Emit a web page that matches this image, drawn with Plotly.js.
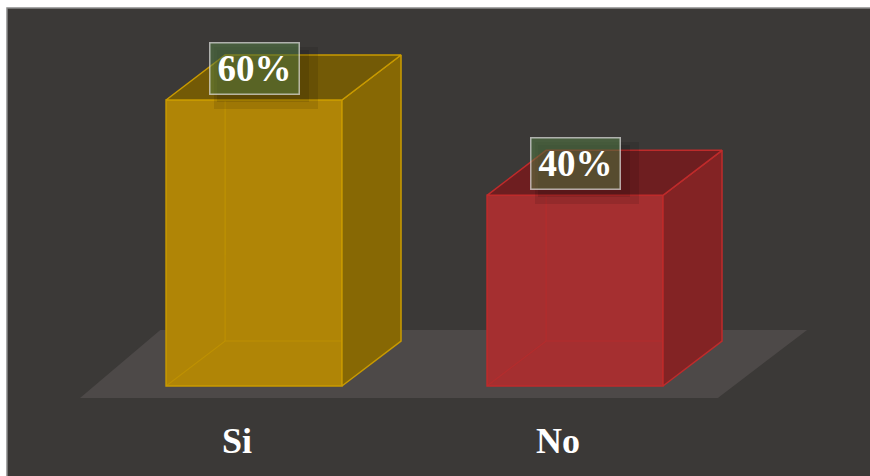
<!DOCTYPE html>
<html>
<head>
<meta charset="utf-8">
<script src="https://cdn.plot.ly/plotly-3.0.1.min.js"></script>
<style>html,body{margin:0;padding:0;background:#fff;}#chart{width:870px;height:476px;}</style>
</head>
<body>
<div id="chart"></div>
<script>
// ---- data ----
const categories = ['Si', 'No'];
const values = [60, 40];
const valueLabels = ['60%', '40%'];

// ---- styles ----
const frontColors = ['#b08506', '#a52f30'];
const sideColors = ['#876804', '#832324'];
const topColors = ['#735a06', '#6e1e20'];
const edgeColors = ['#c99a00', '#bf2b2b'];

const barWidth = 0.548;   // in category units
const depthX = 0.184;     // 3D depth offset (x units)
const depthY = 9.44;      // 3D depth offset (value units)

const xs = categories.map((c, i) => i);
const traces = [];

// front faces
traces.push({
  type: 'bar', x: xs, y: values, width: barWidth,
  marker: {color: frontColors, line: {color: edgeColors, width: 1.5}},
  hoverinfo: 'skip', showlegend: false
});

xs.forEach((x, i) => {
  const v = values[i];
  const L = x - barWidth / 2, R = x + barWidth / 2;
  // hidden (back) edges seen through the translucent box
  traces.push({
    type: 'scatter', mode: 'lines',
    x: [L, L + depthX, R + depthX, null, L + depthX, L + depthX],
    y: [0, depthY, depthY, null, depthY, v + depthY],
    line: {color: edgeColors[i], width: 1.2}, opacity: 0.55,
    hoverinfo: 'skip', showlegend: false
  });
  // side face
  traces.push({
    type: 'scatter', mode: 'lines', fill: 'toself', fillcolor: sideColors[i],
    x: [R, R + depthX, R + depthX, R, R],
    y: [0, depthY, v + depthY, v, 0],
    line: {color: edgeColors[i], width: 1.5},
    hoverinfo: 'skip', showlegend: false
  });
  // top face
  traces.push({
    type: 'scatter', mode: 'lines', fill: 'toself', fillcolor: topColors[i],
    x: [L, R, R + depthX, L + depthX, L],
    y: [v, v, v + depthY, v + depthY, v],
    line: {color: edgeColors[i], width: 1.5},
    hoverinfo: 'skip', showlegend: false
  });
});

// floor (parallelogram under the bars)
const n = categories.length;
const fl = {x0: -0.542, x1: (n - 1) + 0.445, y0: -2.52, y1: 11.75, sx: 0.25, sx2: 0.278};
const floorPath = `M ${fl.x0} ${fl.y0} L ${fl.x1} ${fl.y0} L ${fl.x1 + fl.sx2} ${fl.y1} L ${fl.x0 + fl.sx} ${fl.y1} Z`;

const annotations = [];
xs.forEach((x, i) => {
  // soft shadow behind the value label
  annotations.push({
    x: x, y: values[i], xref: 'x', yref: 'y', yshift: 22, xshift: 12,
    text: ' ', showarrow: false, bgcolor: 'rgba(0,0,0,0.10)', borderwidth: 0,
    borderpad: 0, width: 104, height: 62
  });
  annotations.push({
    x: x, y: values[i], xref: 'x', yref: 'y', yshift: 24, xshift: 9,
    text: ' ', showarrow: false, bgcolor: 'rgba(0,0,0,0.10)', borderwidth: 0,
    borderpad: 0, width: 92, height: 52
  });
  annotations.push({
    x: x, y: values[i], xref: 'x', yref: 'y', yshift: 32,
    text: valueLabels[i], showarrow: false,
    font: {family: 'Liberation Serif, Times New Roman, serif', size: 37, color: '#ffffff', weight: 'bold'},
    bgcolor: 'rgba(85,130,70,0.5)', bordercolor: 'rgba(225,225,225,0.7)', borderwidth: 1.5,
    borderpad: 0, width: 88, height: 50
  });
  annotations.push({
    x: x, y: 0, xref: 'x', yref: 'y', yshift: -55, xshift: -17,
    text: '<b>' + categories[i] + '</b>', showarrow: false,
    font: {family: 'Liberation Serif, Times New Roman, serif', size: 36, color: '#ffffff'}
  });
});

const layout = {
  width: 870, height: 476,
  margin: {l: 7, r: 0, t: 8, b: 0, pad: 0},
  paper_bgcolor: '#ffffff', plot_bgcolor: '#3b3937',
  xaxis: {range: [-0.7695, 1.919], visible: false, fixedrange: true},
  yaxis: {range: [-18.88, 79.30], visible: false, fixedrange: true},
  showlegend: false,
  shapes: [
    {type: 'path', xref: 'x', yref: 'y', path: floorPath, fillcolor: '#4d4948', line: {width: 0}, layer: 'below'},
    {type: 'rect', xref: 'paper', yref: 'paper', x0: 0, x1: 1.01, y0: -0.01, y1: 1, line: {color: '#8a8a8a', width: 1.5}, fillcolor: 'rgba(0,0,0,0)'}
  ],
  annotations: annotations
};

Plotly.newPlot('chart', traces, layout, {displayModeBar: false, staticPlot: true});
</script>
</body>
</html>
